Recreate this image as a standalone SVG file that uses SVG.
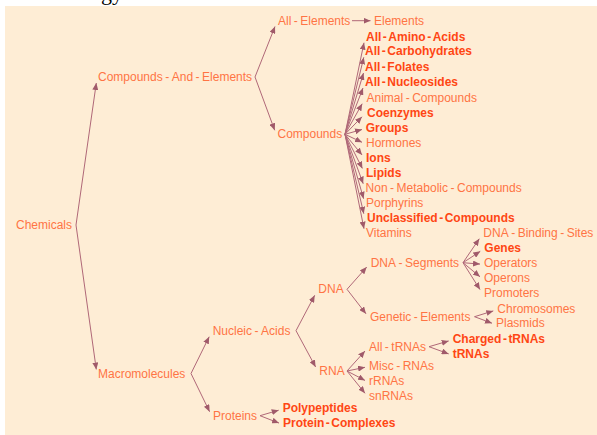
<svg xmlns="http://www.w3.org/2000/svg" width="597" height="435" viewBox="0 0 597 435">
<style>
text{font-family:"Liberation Sans",Arial,sans-serif;font-size:12px}
.n{fill:#FF7444}
.b{fill:#FF4614;font-weight:bold}
.e line{stroke:#B06878;stroke-width:1}
</style>
<defs>
<marker id="ah" markerUnits="userSpaceOnUse" markerWidth="7" markerHeight="6" refX="7" refY="3" orient="auto">
<path d="M0,0 L7,3 L0,6 z" fill="#A05A6A"/>
</marker>
</defs>
<rect width="597" height="435" fill="#FFFFFF"/>
<text x="101" y="0" style="font-family:'Liberation Serif',serif;font-size:22px" fill="#000">gy</text>
<rect x="5" y="6" width="592" height="429" fill="#FEEDD5"/>
<g class="e">
<line x1="76" y1="225" x2="96.3" y2="83" marker-end="url(#ah)"/>
<line x1="76" y1="225" x2="96.3" y2="369.5" marker-end="url(#ah)"/>
<line x1="255" y1="77" x2="275" y2="26.5" marker-end="url(#ah)"/>
<line x1="255" y1="77" x2="274.7" y2="130.3" marker-end="url(#ah)"/>
<line x1="352" y1="20.7" x2="370.5" y2="20.7" marker-end="url(#ah)"/>
<line x1="345" y1="134.3" x2="364" y2="42.7" marker-end="url(#ah)"/>
<line x1="345" y1="134.3" x2="363.8" y2="57.3" marker-end="url(#ah)"/>
<line x1="345" y1="134.3" x2="363.5" y2="73" marker-end="url(#ah)"/>
<line x1="345" y1="134.3" x2="363" y2="88" marker-end="url(#ah)"/>
<line x1="345" y1="134.3" x2="362.2" y2="103.7" marker-end="url(#ah)"/>
<line x1="345" y1="134.3" x2="362" y2="116.8" marker-end="url(#ah)"/>
<line x1="345" y1="134.3" x2="362" y2="129.5" marker-end="url(#ah)"/>
<line x1="345" y1="134.3" x2="362" y2="142.3" marker-end="url(#ah)"/>
<line x1="345" y1="134.3" x2="362" y2="154.9" marker-end="url(#ah)"/>
<line x1="345" y1="134.3" x2="362.4" y2="168.5" marker-end="url(#ah)"/>
<line x1="345" y1="134.3" x2="363.2" y2="183.7" marker-end="url(#ah)"/>
<line x1="345" y1="134.3" x2="363.6" y2="198.7" marker-end="url(#ah)"/>
<line x1="345" y1="134.3" x2="363.8" y2="213.7" marker-end="url(#ah)"/>
<line x1="345" y1="134.3" x2="364" y2="228.7" marker-end="url(#ah)"/>
<line x1="191" y1="373.5" x2="209.2" y2="336.7" marker-end="url(#ah)"/>
<line x1="191" y1="373.5" x2="209.6" y2="411.7" marker-end="url(#ah)"/>
<line x1="260" y1="415.7" x2="278.7" y2="410.2" marker-end="url(#ah)"/>
<line x1="260" y1="415.7" x2="279" y2="423.1" marker-end="url(#ah)"/>
<line x1="296" y1="330.7" x2="314.7" y2="295.3" marker-end="url(#ah)"/>
<line x1="296" y1="330.7" x2="315.6" y2="367" marker-end="url(#ah)"/>
<line x1="347" y1="289.3" x2="366.7" y2="267.1" marker-end="url(#ah)"/>
<line x1="347" y1="289.3" x2="366" y2="313.8" marker-end="url(#ah)"/>
<line x1="463" y1="262.7" x2="479.3" y2="238.7" marker-end="url(#ah)"/>
<line x1="463" y1="262.7" x2="480.3" y2="251.3" marker-end="url(#ah)"/>
<line x1="463" y1="262.7" x2="480" y2="264.1" marker-end="url(#ah)"/>
<line x1="463" y1="262.7" x2="480" y2="276.8" marker-end="url(#ah)"/>
<line x1="463" y1="262.7" x2="480" y2="289.6" marker-end="url(#ah)"/>
<line x1="474.5" y1="316.7" x2="493.3" y2="310.9" marker-end="url(#ah)"/>
<line x1="474.5" y1="316.7" x2="492" y2="323.2" marker-end="url(#ah)"/>
<line x1="347" y1="371" x2="365" y2="351" marker-end="url(#ah)"/>
<line x1="347" y1="371" x2="365" y2="367.3" marker-end="url(#ah)"/>
<line x1="347" y1="371" x2="365" y2="380.4" marker-end="url(#ah)"/>
<line x1="347" y1="371" x2="365" y2="393.3" marker-end="url(#ah)"/>
<line x1="429" y1="346.7" x2="448.7" y2="340.9" marker-end="url(#ah)"/>
<line x1="429" y1="346.7" x2="448.7" y2="353.9" marker-end="url(#ah)"/>
</g>
<g id="chemicals"><text class="n" x="16" y="229">Chemicals</text></g>
<g id="compounds-and-elements"><text class="n" x="98" y="81">Compounds<tspan dx="2.5">-</tspan><tspan dx="2.5">And</tspan><tspan dx="2.5">-</tspan><tspan dx="2.5">Elements</tspan></text></g>
<g id="macromolecules"><text class="n" x="98" y="377.5">Macromolecules</text></g>
<g id="all-elements"><text class="n" x="278" y="24.7">All<tspan dx="2.5">-</tspan><tspan dx="2.5">Elements</tspan></text></g>
<g id="elements"><text class="n" x="374" y="24.7">Elements</text></g>
<g id="compounds"><text class="n" x="277.5" y="138.3">Compounds</text></g>
<g id="all-amino-acids"><text class="b" x="366" y="40.7">All<tspan dx="1.5">-</tspan><tspan dx="1.5">Amino</tspan><tspan dx="1.5">-</tspan><tspan dx="1.5">Acids</tspan></text></g>
<g id="all-carbohydrates"><text class="b" x="365" y="55.3">All<tspan dx="1.5">-</tspan><tspan dx="1.5">Carbohydrates</tspan></text></g>
<g id="all-folates"><text class="b" x="365" y="71">All<tspan dx="1.5">-</tspan><tspan dx="1.5">Folates</tspan></text></g>
<g id="all-nucleosides"><text class="b" x="365" y="86">All<tspan dx="1.5">-</tspan><tspan dx="1.5">Nucleosides</tspan></text></g>
<g id="animal-compounds"><text class="n" x="366.5" y="101.7">Animal<tspan dx="2.5">-</tspan><tspan dx="2.5">Compounds</tspan></text></g>
<g id="coenzymes"><text class="b" x="367" y="116.7">Coenzymes</text></g>
<g id="groups"><text class="b" x="365.7" y="131.7">Groups</text></g>
<g id="hormones"><text class="n" x="366" y="146.7">Hormones</text></g>
<g id="ions"><text class="b" x="366" y="161.5">Ions</text></g>
<g id="lipids"><text class="b" x="366" y="176.5">Lipids</text></g>
<g id="non-metabolic-compounds"><text class="n" x="365.6" y="191.7">Non<tspan dx="2.5">-</tspan><tspan dx="2.5">Metabolic</tspan><tspan dx="2.5">-</tspan><tspan dx="2.5">Compounds</tspan></text></g>
<g id="porphyrins"><text class="n" x="366" y="206.7">Porphyrins</text></g>
<g id="unclassified-compounds"><text class="b" x="367" y="221.7">Unclassified<tspan dx="1.5">-</tspan><tspan dx="1.5">Compounds</tspan></text></g>
<g id="vitamins"><text class="n" x="366" y="236.7">Vitamins</text></g>
<g id="nucleic-acids"><text class="n" x="212.7" y="334.7">Nucleic<tspan dx="2.5">-</tspan><tspan dx="2.5">Acids</tspan></text></g>
<g id="proteins"><text class="n" x="213" y="419.7">Proteins</text></g>
<g id="polypeptides"><text class="b" x="282.7" y="412.3">Polypeptides</text></g>
<g id="protein-complexes"><text class="b" x="283" y="427.3">Protein<tspan dx="1.5">-</tspan><tspan dx="1.5">Complexes</tspan></text></g>
<g id="dna"><text class="n" x="318.3" y="293.3">DNA</text></g>
<g id="rna"><text class="n" x="319.3" y="375">RNA</text></g>
<g id="dna-segments"><text class="n" x="370.7" y="266.7">DNA<tspan dx="2.5">-</tspan><tspan dx="2.5">Segments</tspan></text></g>
<g id="genetic-elements"><text class="n" x="370" y="320.7">Genetic<tspan dx="2.5">-</tspan><tspan dx="2.5">Elements</tspan></text></g>
<g id="dna-binding-sites"><text class="n" x="483.3" y="237.3">DNA<tspan dx="2.5">-</tspan><tspan dx="2.5">Binding</tspan><tspan dx="2.5">-</tspan><tspan dx="2.5">Sites</tspan></text></g>
<g id="genes"><text class="b" x="484.3" y="252.3">Genes</text></g>
<g id="operators"><text class="n" x="484" y="267.3">Operators</text></g>
<g id="operons"><text class="n" x="484" y="282.3">Operons</text></g>
<g id="promoters"><text class="n" x="484" y="297.3">Promoters</text></g>
<g id="chromosomes"><text class="n" x="497.3" y="313">Chromosomes</text></g>
<g id="plasmids"><text class="n" x="496" y="327.3">Plasmids</text></g>
<g id="all-trnas"><text class="n" x="369" y="350.7">All<tspan dx="2.5">-</tspan><tspan dx="2.5">tRNAs</tspan></text></g>
<g id="misc-rnas"><text class="n" x="369" y="369.7">Misc<tspan dx="2.5">-</tspan><tspan dx="2.5">RNAs</tspan></text></g>
<g id="rrnas"><text class="n" x="369" y="385">rRNAs</text></g>
<g id="snrnas"><text class="n" x="369" y="400">snRNAs</text></g>
<g id="charged-trnas"><text class="b" x="452.7" y="343">Charged<tspan dx="1.5">-</tspan><tspan dx="1.5">tRNAs</tspan></text></g>
<g id="trnas"><text class="b" x="452.7" y="358">tRNAs</text></g>
</svg>
